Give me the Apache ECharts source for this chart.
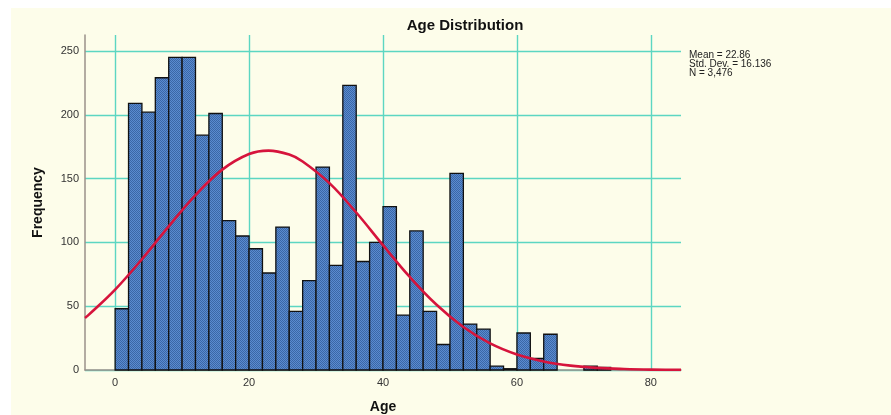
<!DOCTYPE html>
<html>
<head>
<meta charset="utf-8">
<script src="https://cdn.jsdelivr.net/npm/echarts@6/dist/echarts.min.js"></script>
<style>
  html, body { margin: 0; padding: 0; background: #ffffff; }
  #chart { width: 891px; height: 415px; }
</style>
</head>
<body>
<div id="chart"></div>
<script>
// Histogram of ages, bins of width 2 (lower edge, upper edge, count)
const binStart = [0, 2, 4, 6, 8, 10, 12, 14, 16, 18, 20, 22, 24, 26, 28, 30, 32, 34, 36,
                  38, 40, 42, 44, 46, 48, 50, 52, 54, 56, 58, 60, 62, 64, 66, 68, 70, 72];
const binEnd = [2, 4, 6, 8, 10, 12, 14, 16, 18, 20, 22, 24, 26, 28, 30, 32, 34, 36, 38,
                40, 42, 44, 46, 48, 50, 52, 54, 56, 58, 60, 62, 64, 66, 68, 70, 72, 74];
const binCount = [48, 209, 202, 229, 245, 245, 184, 201, 117, 105, 95, 76, 112, 46, 70, 159, 82, 223, 85,
                  100, 128, 43, 109, 46, 20, 154, 36, 32, 3, 1, 29, 9, 28, 0, 0, 3, 2];

// Normal curve overlay (expected frequency per bin)
const curveAge = [-4.5, -4, 0, 4, 8, 12, 16, 20, 22.9, 26, 28, 32, 36, 40, 44, 48, 52, 56, 60, 64, 68, 72, 76, 80, 84, 84.5];
const curveFreq = [40.8, 43.0, 63.0, 86.8, 112.5, 137.1, 157.0, 169.2, 171.9, 168.8, 163.4, 146.4, 123.4, 97.8,
                   72.9, 51.1, 33.7, 20.9, 12.2, 6.7, 3.4, 1.7, 0.8, 0.3, 0.1, 0.1];

const xTicks = [0, 20, 40, 60, 80];
const yTicks = [0, 50, 100, 150, 200, 250];

const statLines = ['Mean = 22.86', 'Std. Dev. = 16.136', 'N = 3,476'];

const barData = binStart.map((s, i) => [s, binEnd[i], binCount[i]]).filter(d => d[2] > 0);
const curveData = curveAge.map((a, i) => [a, curveFreq[i]]);

// fine dotted fill for the bars
const pat = document.createElement('canvas');
pat.width = 2; pat.height = 2;
const pctx = pat.getContext('2d');
pctx.fillStyle = '#5a8bd0';
pctx.fillRect(0, 0, 2, 2);
pctx.fillStyle = '#3b67a6';
pctx.fillRect(0, 0, 1, 1);
pctx.fillRect(1, 1, 1, 1);

const chart = echarts.init(document.getElementById('chart'), null, { renderer: 'canvas' });
const font = 'Liberation Sans, Arial, sans-serif';
const gridColor = '#5cd6c2';

chart.setOption({
  backgroundColor: '#fdfdea',
  animation: false,
  title: {
    text: 'Age Distribution',
    left: 460,
    textAlign: 'center',
    top: 13,
    textStyle: { fontFamily: font, fontSize: 15, fontWeight: 'bold', color: '#111' }
  },
  grid: { left: 85, top: 35, width: 596, height: 335, outerBoundsMode: 'none', containLabel: false },
  xAxis: {
    type: 'value',
    min: -4.5,
    max: 84.5,
    name: 'Age',
    nameLocation: 'middle',
    nameGap: 30,
    nameTextStyle: { fontFamily: font, fontSize: 14, fontWeight: 'bold', color: '#111' },
    axisLine: { show: true, onZero: false, lineStyle: { color: '#9a918a', width: 1.5 } },
    axisTick: { show: false, customValues: xTicks },
    axisLabel: { customValues: xTicks, fontFamily: font, fontSize: 11, color: '#333', margin: 7 },
    splitLine: { show: true, lineStyle: { color: gridColor, width: 1.4 } }
  },
  yAxis: {
    type: 'value',
    min: 0,
    max: 262.5,
    name: 'Frequency',
    nameLocation: 'middle',
    nameRotate: 90,
    nameGap: 40,
    nameTextStyle: { fontFamily: font, fontSize: 14, fontWeight: 'bold', color: '#111' },
    axisLine: { show: true, onZero: false, lineStyle: { color: '#9a918a', width: 1.5 } },
    axisTick: { show: false, customValues: yTicks },
    axisLabel: { customValues: yTicks, fontFamily: font, fontSize: 11, color: '#333', margin: 6 },
    splitLine: { show: true, lineStyle: { color: gridColor, width: 1.4 } }
  },
  graphic: [
    { type: 'rect', silent: true, shape: { x: 0, y: 0, width: 891, height: 8 }, style: { fill: '#ffffff' } },
    { type: 'rect', silent: true, shape: { x: 0, y: 0, width: 11, height: 415 }, style: { fill: '#ffffff' } },
    {
      type: 'text', left: 689, top: 50, silent: true,
      style: {
        text: statLines.join('\n'),
        fontFamily: font, fontSize: 10, lineHeight: 9, fill: '#222'
      }
    }
  ],
  series: [
    {
      type: 'custom',
      data: barData,
      encode: { x: [0, 1], y: 2 },
      z: 2,
      renderItem: function (params, api) {
        const p0 = api.coord([api.value(0), api.value(2)]);
        const p1 = api.coord([api.value(1), 0]);
        return {
          type: 'rect',
          shape: { x: p0[0], y: p0[1], width: p1[0] - p0[0], height: p1[1] - p0[1] },
          style: { fill: { image: pat, repeat: 'repeat' }, stroke: '#111', lineWidth: 1.3 }
        };
      }
    },
    {
      type: 'line',
      data: curveData,
      smooth: 0.4,
      showSymbol: false,
      z: 3,
      lineStyle: { color: '#d6143c', width: 2.6 }
    }
  ]
});
</script>
</body>
</html>
